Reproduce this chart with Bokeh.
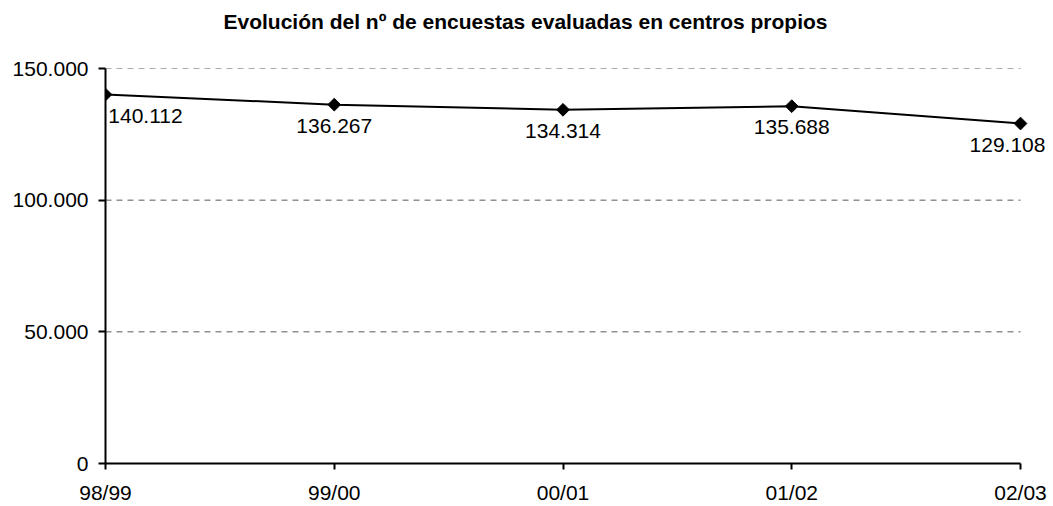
import math
from bokeh.plotting import figure
from bokeh.models import ColumnDataSource, FixedTicker, CustomJSTickFormatter, Range1d, LabelSet, Title
from bokeh.core.properties import value
from bokeh.embed import file_html
from bokeh.resources import INLINE

# ---- data ----
seasons = ["98/99", "99/00", "00/01", "01/02", "02/03"]
surveys = [140112, 136267, 134314, 135688, 129108]
y_ticks = [0, 50000, 100000, 150000]
title_text = "Evolución del nº de encuestas evaluadas en centros propios"

def es_fmt(v):
    return f"{v:,}".replace(",", ".")

FONT = "Liberation Sans"

xs = list(range(len(seasons)))
x_last = len(seasons) - 1
label_shift = [40, 0, 0, 0, -13]
src = ColumnDataSource(dict(
    x=xs,
    y=surveys,
    lbl=[es_fmt(v) for v in surveys],
    dx=label_shift,
))
grid_src = ColumnDataSource(dict(y=[t for t in y_ticks if t > 0]))

# frame: 945px wide, category spacing 228.75px -> extra room right of last category
frame_w = 945
cat_px = 915 / x_last
x_end = frame_w / cat_px

p = figure(width=1053, height=506, output_backend="svg", toolbar_location=None,
           x_range=Range1d(0, x_end), y_range=Range1d(0, 150000),
           min_border_left=105, min_border_right=3, min_border_top=68, min_border_bottom=41)
p.outline_line_color = None
p.background_fill_color = "white"
p.border_fill_color = "white"

# grid (drawn only across the category span)
p.xgrid.grid_line_color = None
p.ygrid.grid_line_color = None
p.segment(x0=0, x1=x_last, y0="y", y1="y", source=grid_src,
          line_color="#5a5a5a", line_dash="6 5", line_width=1)

# axes
p.xaxis.ticker = FixedTicker(ticks=xs)
p.xaxis.bounds = (0, x_last)
p.xaxis.major_label_overrides = {i: s for i, s in enumerate(seasons)}
p.yaxis.ticker = FixedTicker(ticks=y_ticks)
p.yaxis.formatter = CustomJSTickFormatter(code="""
    return Math.round(tick).toString().replace(/\\B(?=(\\d{3})+(?!\\d))/g, '.');
""")
for ax in (p.xaxis[0], p.yaxis[0]):
    ax.axis_line_color = "black"
    ax.axis_line_width = 2
    ax.major_tick_line_color = "black"
    ax.major_tick_line_width = 2
    ax.major_tick_in = 0
    ax.minor_tick_line_color = None
    ax.major_label_text_font = FONT
    ax.major_label_text_font_size = "21px"
    ax.major_label_text_color = "black"
p.xaxis.major_tick_out = 6
p.xaxis.major_label_standoff = 11
p.yaxis.major_tick_out = 7
p.yaxis.major_label_standoff = 10

# series
p.line("x", "y", source=src, line_color="black", line_width=2)
p.scatter("x", "y", source=src, marker="square", size=9, angle=math.pi / 4,
          fill_color="black", line_color="black")
p.add_layout(LabelSet(x="x", y="y", text="lbl", source=src, x_offset="dx", y_offset=-21,
                      text_align="center", text_baseline="middle",
                      text_font=value(FONT), text_font_size=value("21px"),
                      text_color="black"))

# spacer between frame and title, then the title itself
p.add_layout(Title(text=" ", text_font=FONT, text_font_size="21px", standoff=9), "above")
p.add_layout(Title(text=title_text, align="left", offset=118, vertical_align="top",
                   text_font=FONT, text_font_size="21px", text_font_style="bold",
                   text_color="black", standoff=0), "above")

open("out.html", "w").write(file_html(p, INLINE))
